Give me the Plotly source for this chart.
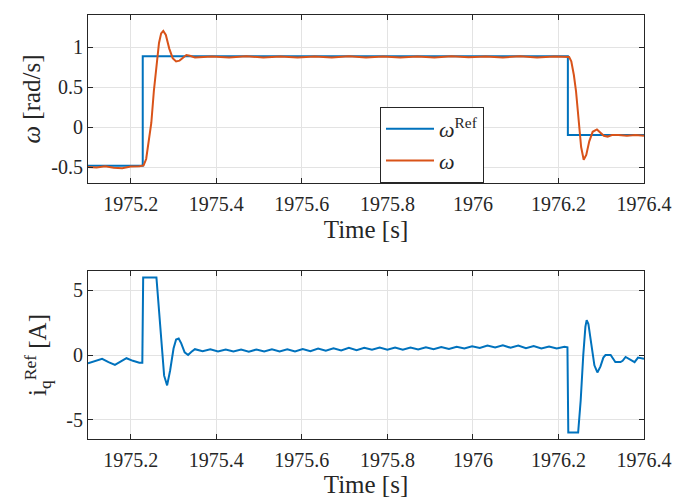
import plotly.graph_objects as go

# ---------------- data ----------------
# Reference speed (step signal)
ref_t = [1975.10, 1975.228, 1975.228, 1976.222, 1976.222, 1976.40]
ref_w = [-0.485, -0.485, 0.885, 0.885, -0.10, -0.10]

# Measured speed
w_t = [1975.10, 1975.12, 1975.14, 1975.16, 1975.18, 1975.20, 1975.22, 1975.230,
       1975.236, 1975.242, 1975.248, 1975.254, 1975.260, 1975.266, 1975.271, 1975.276,
       1975.282, 1975.290, 1975.298, 1975.306, 1975.314, 1975.322, 1975.330, 1975.338,
       1975.350, 1975.39, 1975.43, 1975.47, 1975.51, 1975.55, 1975.59, 1975.63, 1975.67,
       1975.71, 1975.75, 1975.79, 1975.83, 1975.87, 1975.91, 1975.95, 1975.99, 1976.03,
       1976.07, 1976.11, 1976.15, 1976.19, 1976.225,
       1976.230, 1976.236, 1976.241, 1976.247, 1976.253, 1976.259, 1976.265, 1976.272,
       1976.280, 1976.290, 1976.298, 1976.306, 1976.315, 1976.325, 1976.340, 1976.360,
       1976.380, 1976.400]
w_v = [-0.50, -0.505, -0.49, -0.51, -0.515, -0.495, -0.49, -0.48,
       -0.40, -0.20, 0.05, 0.45, 0.80, 1.05, 1.17, 1.20,
       1.15, 0.98, 0.86, 0.82, 0.83, 0.87, 0.90, 0.89,
       0.87, 0.88, 0.87, 0.885, 0.87, 0.88, 0.868, 0.882, 0.87,
       0.885, 0.87, 0.88, 0.868, 0.882, 0.87, 0.885, 0.872, 0.88,
       0.87, 0.885, 0.87, 0.88, 0.875,
       0.82, 0.65, 0.45, 0.10, -0.25, -0.41, -0.35, -0.18,
       -0.06, -0.03, -0.07, -0.11, -0.12, -0.10, -0.10, -0.11,
       -0.10, -0.11]

# q-axis current reference
iq_t = [1975.100, 1975.115, 1975.133, 1975.148, 1975.163, 1975.177, 1975.190, 1975.205,
        1975.220, 1975.227, 1975.229, 1975.260, 1975.266, 1975.272, 1975.278, 1975.285,
        1975.292, 1975.300, 1975.306, 1975.312, 1975.318, 1975.326, 1975.334, 1975.342,
        1975.350, 1975.368, 1975.386, 1975.404, 1975.422, 1975.440, 1975.458, 1975.476,
        1975.494, 1975.512, 1975.530, 1975.548, 1975.566, 1975.584, 1975.602, 1975.620,
        1975.638, 1975.656, 1975.674, 1975.692, 1975.710, 1975.728, 1975.746, 1975.764,
        1975.782, 1975.800, 1975.818, 1975.836, 1975.854, 1975.872, 1975.890, 1975.908,
        1975.926, 1975.944, 1975.962, 1975.980, 1975.998, 1976.016, 1976.034, 1976.052,
        1976.070, 1976.088, 1976.106, 1976.124, 1976.142, 1976.160, 1976.178, 1976.196,
        1976.214, 1976.221, 1976.223, 1976.246, 1976.252, 1976.258, 1976.263, 1976.266,
        1976.270, 1976.277, 1976.284, 1976.291, 1976.298, 1976.305, 1976.310, 1976.322,
        1976.328, 1976.333, 1976.345, 1976.350, 1976.357, 1976.365, 1976.372, 1976.378,
        1976.386, 1976.393, 1976.400]
iq_v = [-0.65, -0.50, -0.30, -0.55, -0.77, -0.50, -0.25, -0.45,
        -0.60, -0.60, 6.00, 6.00, 3.50, 0.50, -1.60, -2.35,
        -1.20, 0.50, 1.20, 1.28, 0.90, 0.20, 0.00, 0.25,
        0.45, 0.30, 0.45, 0.28, 0.43, 0.27, 0.42, 0.26,
        0.43, 0.27, 0.44, 0.28, 0.45, 0.27, 0.46, 0.30,
        0.50, 0.33, 0.52, 0.36, 0.55, 0.38, 0.56, 0.40,
        0.57, 0.41, 0.58, 0.40, 0.58, 0.42, 0.60, 0.44,
        0.62, 0.46, 0.64, 0.50, 0.68, 0.55, 0.74, 0.58,
        0.76, 0.56, 0.74, 0.52, 0.70, 0.50, 0.66, 0.50,
        0.64, 0.60, -6.00, -6.00, -3.50, 0.00, 2.20, 2.70,
        2.40, 0.80, -0.80, -1.35, -0.90, -0.20, 0.00, 0.00,
        -0.30, -0.55, -0.55, -0.45, -0.15, -0.30, -0.45, -0.55,
        -0.20, -0.25, -0.30]

x_tickvals = [1975.2, 1975.4, 1975.6, 1975.8, 1976.0, 1976.2, 1976.4]
x_ticktext = ["1975.2", "1975.4", "1975.6", "1975.8", "1976", "1976.2", "1976.4"]
y1_tickvals = [-0.5, 0, 0.5, 1]
y1_ticktext = ["-0.5", "0", "0.5", "1"]
y2_tickvals = [-5, 0, 5]
y2_ticktext = ["-5", "0", "5"]

# ---------------- styling ----------------
BLUE = "#0072BD"
ORANGE = "#D95319"
FONT = "Liberation Serif, Times New Roman, DejaVu Serif, serif"
AX = "#262626"
W, H = 678, 500

fig = go.Figure()
fig.add_trace(go.Scatter(x=ref_t, y=ref_w, mode="lines", name="<i>ω</i><sup>Ref</sup>",
                         line=dict(color=BLUE, width=2), xaxis="x", yaxis="y"))
fig.add_trace(go.Scatter(x=w_t, y=w_v, mode="lines", name="<i>ω</i>",
                         line=dict(color=ORANGE, width=2), xaxis="x", yaxis="y"))
fig.add_trace(go.Scatter(x=iq_t, y=iq_v, mode="lines", name="i<sub>q</sub><sup>Ref</sup>",
                         line=dict(color=BLUE, width=2), xaxis="x2", yaxis="y2",
                         showlegend=False))

common_ax = dict(showline=True, linecolor=AX, linewidth=1, mirror="allticks",
                 ticks="inside", ticklen=5, tickcolor=AX, showgrid=True,
                 gridcolor="#e3e3e3", gridwidth=1, zeroline=False, automargin=False,
                 tickfont=dict(family=FONT, size=20, color=AX))

xdom = [88 / W, 644 / W]
title_font = dict(family=FONT, size=25, color=AX)
fig.update_layout(
    width=W, height=H, margin=dict(l=0, r=0, t=0, b=0, autoexpand=False),
    paper_bgcolor="white", plot_bgcolor="white",
    font=dict(family=FONT, color=AX),
    xaxis=dict(domain=xdom, anchor="y", range=[1975.1, 1976.4],
               tickvals=x_tickvals, ticktext=x_ticktext, ticklabelstandoff=3,
               title=dict(text="Time [s]", font=title_font, standoff=6),
               **common_ax),
    yaxis=dict(domain=[1 - 183 / H, 1 - 15 / H], anchor="x", range=[-0.7, 1.4],
               tickvals=y1_tickvals, ticktext=y1_ticktext,
               title=dict(text="<i>ω</i> [rad/s]", font=title_font, standoff=3),
               **common_ax),
    xaxis2=dict(domain=xdom, anchor="y2", range=[1975.1, 1976.4],
                tickvals=x_tickvals, ticktext=x_ticktext, ticklabelstandoff=3,
                title=dict(text="Time [s]", font=title_font, standoff=2),
                **common_ax),
    yaxis2=dict(domain=[1 - 439 / H, 1 - 271 / H], anchor="x2", range=[-6.5, 6.5],
                tickvals=y2_tickvals, ticktext=y2_ticktext,
                title=dict(text="i<sub>q</sub><sup>Ref</sup> [A]", font=title_font, standoff=12),
                **common_ax),
    legend=dict(x=380 / W, y=1 - 107 / H, xanchor="left", yanchor="top",
                bgcolor="white", bordercolor=AX, borderwidth=1,
                font=dict(family=FONT, size=22, color=AX), itemwidth=48,
                tracegroupgap=0),
    showlegend=True,
)

fig.write_html("out.html")
